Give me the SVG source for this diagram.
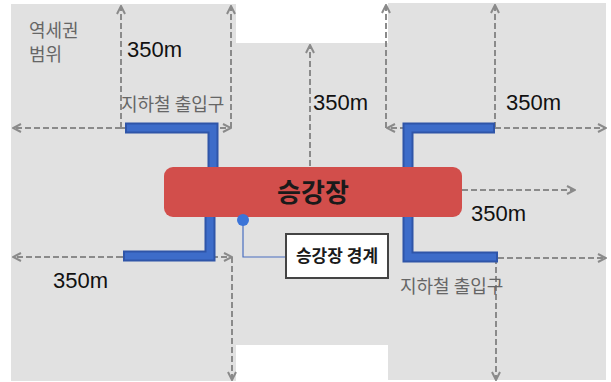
<svg xmlns="http://www.w3.org/2000/svg" width="611" height="382" viewBox="0 0 611 382">
<style>
.dash{fill:none;stroke:#8a8a8a;stroke-width:2;stroke-dasharray:6 3}
.ent{fill:none;stroke:#2f55a8;stroke-width:11;stroke-linejoin:miter}
.ent2{fill:none;stroke:#3d6cc9;stroke-width:7;stroke-linejoin:miter}
.dist{font-family:"Liberation Sans",Arial,sans-serif;font-size:22px;fill:#111}
.lbl{font-family:"Noto Sans CJK KR","Noto Sans",sans-serif;font-size:18px;fill:#666}
</style>
<defs>
<marker id="ah" viewBox="0 0 10 10" refX="9" refY="5" markerWidth="10" markerHeight="10" markerUnits="userSpaceOnUse" orient="auto">
<path d="M1,1 L9,5 L1,9" fill="none" stroke="#8a8a8a" stroke-width="2"/>
</marker>
</defs>
<g id="area">
<path d="M11,4 H236 V43 H388 V3 H606 V380 H388 V345 H236 V381 H11 Z" fill="#e1e1e1"/>
<text class="lbl" x="29" y="37">역세권</text>
<text class="lbl" x="29" y="61">범위</text>
</g>
<g id="connectors">
<line class="dash" x1="121" y1="128" x2="13" y2="128" marker-end="url(#ah)"/>
<line class="dash" x1="121" y1="128" x2="121" y2="6" marker-end="url(#ah)"/>
<line class="dash" x1="121" y1="128" x2="231" y2="128" marker-end="url(#ah)"/>
<line class="dash" x1="231" y1="128" x2="231" y2="6" marker-end="url(#ah)"/>
<line class="dash" x1="310" y1="166" x2="310" y2="45" marker-end="url(#ah)"/>
<line class="dash" x1="496" y1="128" x2="387" y2="128" marker-end="url(#ah)"/>
<line class="dash" x1="386" y1="128" x2="386" y2="5" marker-end="url(#ah)"/>
<line class="dash" x1="495" y1="128" x2="495" y2="5" marker-end="url(#ah)"/>
<line class="dash" x1="495" y1="128" x2="606" y2="128" marker-end="url(#ah)"/>
<line class="dash" x1="462" y1="190" x2="575" y2="190" marker-end="url(#ah)"/>
<line class="dash" x1="122" y1="257" x2="13" y2="257" marker-end="url(#ah)"/>
<line class="dash" x1="122" y1="257" x2="232" y2="257" marker-end="url(#ah)"/>
<line class="dash" x1="232" y1="257" x2="232" y2="380" marker-end="url(#ah)"/>
<line class="dash" x1="498" y1="258" x2="606" y2="258" marker-end="url(#ah)"/>
<line class="dash" x1="496" y1="258" x2="496" y2="380" marker-end="url(#ah)"/>
<polyline points="243,220 243,257 286,257" fill="none" stroke="#4a6fc0" stroke-width="1.2"/>
</g>
<g id="entrance-tl">
<polyline class="ent" points="125,128 213,128 213,167"/>
<polyline class="ent2" points="127,128 213,128 213,167"/>
<text class="lbl" x="121" y="111">지하철 출입구</text>
</g>
<g id="entrance-tr">
<polyline class="ent" points="495,128 408,128 408,167"/>
<polyline class="ent2" points="493,128 408,128 408,167"/>
</g>
<g id="entrance-bl">
<polyline class="ent" points="210,216 210,256 123,256"/>
<polyline class="ent2" points="210,216 210,256 125,256"/>
</g>
<g id="entrance-br">
<polyline class="ent" points="408,216 408,257 498,257"/>
<polyline class="ent2" points="408,216 408,257 496,257"/>
<text class="lbl" x="400" y="293">지하철 출입구</text>
</g>
<g id="platform">
<rect x="164" y="167" width="298" height="50" rx="9" fill="#d24e4b"/>
<text x="313" y="202" text-anchor="middle" font-family="'Noto Sans CJK KR',sans-serif" font-size="26" font-weight="bold" fill="#1a1a1a">승강장</text>
</g>
<g id="boundary-dot">
<circle cx="243" cy="220" r="6" fill="#3b74d8"/>
</g>
<g id="boundary-box">
<rect x="286" y="234" width="102" height="44" fill="#fff" stroke="#444" stroke-width="2"/>
<text x="337" y="262" text-anchor="middle" font-family="'Noto Sans CJK KR',sans-serif" font-size="17" font-weight="bold" fill="#1a1a1a">승강장 경계</text>
</g>
<g id="distances">
<text class="dist" x="127" y="57">350m</text>
<text class="dist" x="313" y="110">350m</text>
<text class="dist" x="506" y="110">350m</text>
<text class="dist" x="471" y="221">350m</text>
<text class="dist" x="53" y="288">350m</text>
</g>
</svg>
